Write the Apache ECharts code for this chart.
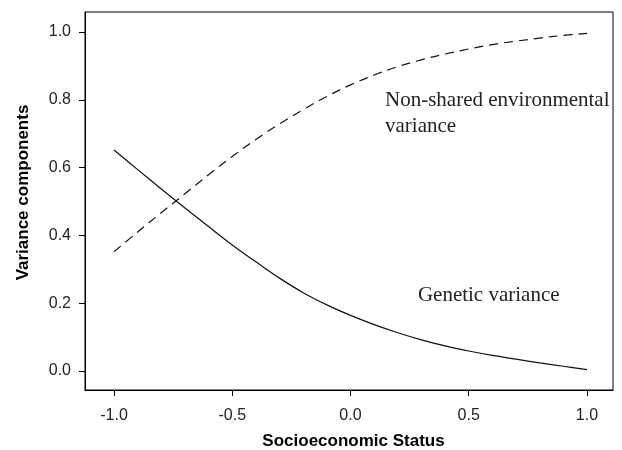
<!DOCTYPE html>
<html>
<head>
<meta charset="utf-8">
<script src="https://cdn.jsdelivr.net/npm/echarts@6/dist/echarts.min.js"></script>
<style>
html,body{margin:0;padding:0;background:#fff;}
#chart{width:622px;height:450px;}
</style>
</head>
<body>
<div id="chart"></div>
<script>
// Socioeconomic status sample positions
var ses = [-1.0,-0.9,-0.8,-0.7,-0.6,-0.5,-0.4,-0.3,-0.2,-0.1,0.0,0.1,0.2,0.3,0.4,0.5,0.6,0.7,0.8,0.9,1.0];
// Genetic variance (solid line)
var geneticVar = [0.652,0.594,0.537,0.481,0.426,0.372,0.322,0.274,0.231,0.195,0.164,0.137,0.113,0.092,0.074,0.059,0.046,0.035,0.024,0.014,0.004];
// Non-shared environmental variance (dashed line)
var nonSharedVar = [0.352,0.410,0.467,0.523,0.579,0.633,0.683,0.729,0.771,0.810,0.844,0.873,0.898,0.918,0.935,0.950,0.963,0.973,0.982,0.990,0.996];
// Tick values
var xTicks = [-1.0,-0.5,0.0,0.5,1.0];
var yTicks = [0.0,0.2,0.4,0.6,0.8,1.0];

function pairs(xs, ys){ return xs.map(function(x,i){ return [x, ys[i]]; }); }

var chart = echarts.init(document.getElementById('chart'), null, {renderer:'canvas'});
var sans = '"Liberation Sans", Arial, sans-serif';
var serif = '"Liberation Serif", "Times New Roman", serif';
chart.setOption({
  animation: false,
  backgroundColor: '#fff',
  grid: {left: 85, right: 9, top: 12, bottom: 60, outerBoundsMode: 'none', containLabel: false,
    show: true, borderColor: '#000', borderWidth: 1, backgroundColor: 'transparent'},
  xAxis: {
    type: 'value', min: -1.1226, max: 1.11,
    name: 'Socioeconomic Status', nameLocation: 'middle', nameGap: 43,
    nameTextStyle: {fontFamily: sans, fontSize: 17, fontWeight: 'bold', color: '#000', padding: [0,0,0,9]},
    axisLine: {show: true, onZero: false, lineStyle: {color: '#000', width: 1}},
    axisTick: {show: true, length: 6, customValues: xTicks, lineStyle: {color: '#000', width: 1}},
    axisLabel: {margin: 18, customValues: xTicks, fontFamily: sans, fontSize: 16, color: '#222',
      formatter: function(v){ return v.toFixed(1); }},
    splitLine: {show: false}
  },
  yAxis: {
    type: 'value', min: -0.056, max: 1.059,
    name: 'Variance components', nameLocation: 'middle', nameGap: 53,
    nameTextStyle: {fontFamily: sans, fontSize: 17, fontWeight: 'bold', color: '#000', padding: [0,0,0,17]},
    axisLine: {show: true, onZero: false, lineStyle: {color: '#000', width: 1}},
    axisTick: {show: true, length: 6, customValues: yTicks, lineStyle: {color: '#000', width: 1}},
    axisLabel: {margin: 14, customValues: yTicks, fontFamily: sans, fontSize: 16, color: '#222',
      formatter: function(v){ return v.toFixed(1); }},
    splitLine: {show: false}
  },
  series: [
    {
      name: 'Genetic variance', type: 'line', data: pairs(ses, geneticVar),
      smooth: 0.4, symbol: 'none',
      lineStyle: {color: '#111', width: 1.2, type: 'solid'},
      markPoint: {
        symbol: 'circle', symbolSize: 0,
        label: {show: true, position: 'right', distance: 0, fontFamily: serif, fontSize: 21, color: '#222',
          formatter: 'Genetic variance'},
        data: [{coord: [0.285, 0.224]}]
      }
    },
    {
      name: 'Non-shared environmental variance', type: 'line', data: pairs(ses, nonSharedVar),
      smooth: 0.4, symbol: 'none',
      lineStyle: {color: '#111', width: 1.2, type: [9,6]},
      markPoint: {
        symbol: 'circle', symbolSize: 0,
        label: {show: true, position: 'right', distance: 0, fontFamily: serif, fontSize: 21, lineHeight: 26, color: '#222',
          formatter: 'Non-shared environmental\nvariance'},
        data: [{coord: [0.146, 0.759]}]
      }
    }
  ]
});
</script>
</body>
</html>
